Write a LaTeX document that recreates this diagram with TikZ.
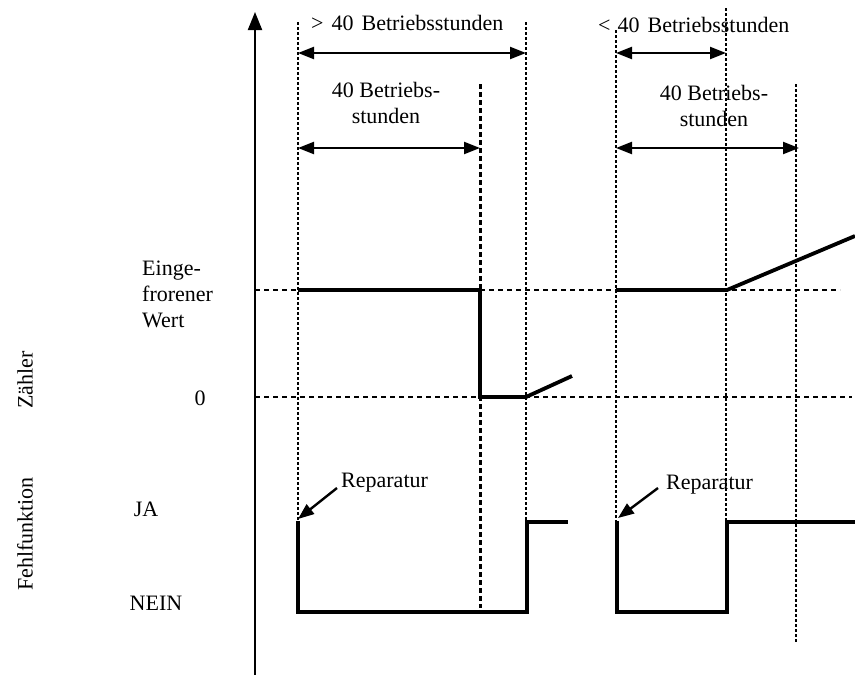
\documentclass[tikz,border=0pt]{standalone}
\usepackage{fontspec}
\setmainfont{Liberation Serif}
\usetikzlibrary{arrows.meta}
\begin{document}
\begin{tikzpicture}[x=1pt,y=-1pt,
 lbl/.style={font=\fontsize{22}{26}\selectfont, inner sep=0pt},
 hgrid/.style={line width=1.3pt, dash pattern=on 5pt off 4pt},
 vgrid/.style={line width=1.4pt, dash pattern=on 3pt off 2pt},
 vgridthick/.style={line width=3pt, dash pattern=on 5pt off 3pt},
 sig/.style={line width=3.8pt, line join=miter},
 dimarrow/.style={line width=2.2pt, {Triangle[length=16pt,width=12pt]}-{Triangle[length=16pt,width=12pt]}},
 pointer/.style={line width=2.4pt, -{Triangle[length=16pt,width=12pt]}},
 axisline/.style={line width=2pt, -{Triangle[length=18pt,width=14pt]}}
]
\useasboundingbox (0,0) rectangle (855,675);
% axis
\coordinate (ax0) at (255,675);
\coordinate (ax1) at (255,12);
\draw[axisline] (ax0) -- (ax1);
% horizontal grid lines
\coordinate (h1a) at (255,290); \coordinate (h1b) at (840,290);
\coordinate (h2a) at (255,397); \coordinate (h2b) at (852,397);
\draw[hgrid] (h1a) -- (h1b);
\draw[hgrid] (h2a) -- (h2b);
% vertical grid lines
\coordinate (v1a) at (298,22);  \coordinate (v1b) at (298,612);
\coordinate (v2a) at (480,84);  \coordinate (v2b) at (480,608);
\coordinate (v3a) at (526,22);  \coordinate (v3b) at (526,612);
\coordinate (v4a) at (616,30);  \coordinate (v4b) at (616,612);
\coordinate (v5a) at (726,8);   \coordinate (v5b) at (726,612);
\coordinate (v6a) at (796,84);  \coordinate (v6b) at (796,642);
\draw[vgrid] (v1a) -- (v1b);
\draw[vgridthick] (v2a) -- (v2b);
\draw[vgrid] (v3a) -- (v3b);
\draw[vgrid] (v4a) -- (v4b);
\draw[vgrid] (v5a) -- (v5b);
\draw[vgrid] (v6a) -- (v6b);
% counter signal
\coordinate (z1) at (298,290); \coordinate (z2) at (480,290); \coordinate (z3) at (480,397);
\coordinate (z4) at (526,397); \coordinate (z5) at (572,376);
\draw[sig] (z1) -- (z2) -- (z3) -- (z4) -- (z5);
\coordinate (z6) at (616,290); \coordinate (z7) at (727,290); \coordinate (z8) at (855,236);
\draw[sig] (z6) -- (z7) -- (z8);
% fault signal
\coordinate (f1) at (298,521); \coordinate (f2) at (298,612); \coordinate (f3) at (527,612);
\coordinate (f4) at (527,522); \coordinate (f5) at (568,522);
\draw[sig] (f1) -- (f2) -- (f3) -- (f4) -- (f5);
\coordinate (g1) at (617,521); \coordinate (g2) at (617,612); \coordinate (g3) at (727,612);
\coordinate (g4) at (727,522); \coordinate (g5) at (855,522);
\draw[sig] (g1) -- (g2) -- (g3) -- (g4) -- (g5);
% dimension arrows
\coordinate (d1a) at (298,53); \coordinate (d1b) at (526,53);
\coordinate (d2a) at (298,148); \coordinate (d2b) at (480,148);
\coordinate (d3a) at (616,53); \coordinate (d3b) at (726,53);
\coordinate (d4a) at (616,148); \coordinate (d4b) at (799,148);
\draw[dimarrow] (d1a) -- (d1b);
\draw[dimarrow] (d2a) -- (d2b);
\draw[dimarrow] (d3a) -- (d3b);
\draw[dimarrow] (d4a) -- (d4b);
% dimension labels
\node[lbl, anchor=base west] (t1) at (311,30) {>\hspace{8pt}40\hspace{8pt}Betriebsstunden};
\node[lbl, anchor=base west] (t3) at (598,32) {<\hspace{7pt}40\hspace{8pt}Betriebsstunden};
\node[lbl, align=center] (t2) at (386,103) {40 Betriebs-\\stunden};
\node[lbl, align=center] (t4) at (714,106) {40 Betriebs-\\stunden};
% repair labels
\node[lbl, anchor=base west] (r1) at (341,487) {Reparatur};
\node[lbl, anchor=base west] (r2) at (666,489) {Reparatur};
\coordinate (p1a) at (337,488); \coordinate (p1b) at (298,519);
\coordinate (p2a) at (658,488); \coordinate (p2b) at (618,518);
\draw[pointer] (p1a) -- (p1b);
\draw[pointer] (p2a) -- (p2b);
% left labels
\node[lbl, align=left, anchor=north west] (ew) at (142,261) {Einge-\\frorener\\Wert};
\node[lbl] (zero) at (200,398) {0};
\node[lbl] (ja) at (146,509) {JA};
\node[lbl] (nein) at (156,603) {NEIN};
\node[lbl, rotate=90] (zaehler) at (25,380) {Zähler};
\node[lbl, rotate=90] (fehl) at (25,534) {Fehlfunktion};
\end{tikzpicture}
\end{document}
